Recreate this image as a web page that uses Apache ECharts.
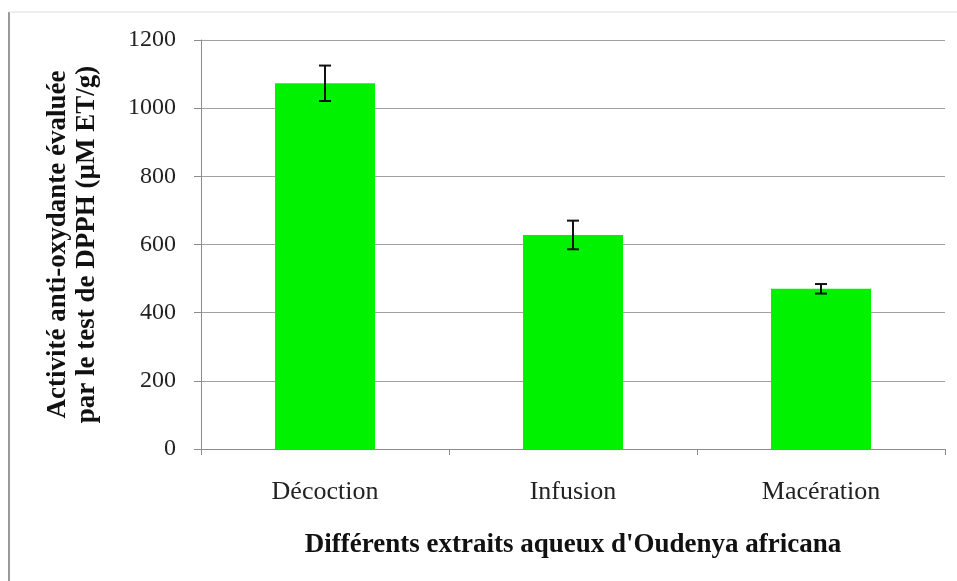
<!DOCTYPE html>
<html>
<head>
<meta charset="utf-8">
<script src="https://cdn.jsdelivr.net/npm/echarts@6/dist/echarts.min.js"></script>
<style>
html,body{margin:0;padding:0;background:#fff;}
#c{width:957px;height:581px;}
</style>
</head>
<body>
<div id="c"></div>
<script>
const categories = ['Décoction', 'Infusion', 'Macération'];
const values = [1073, 628, 470];
const errors = [52, 42, 14];
const yTicks = [0, 200, 400, 600, 800, 1000, 1200];

const FONT = '"Liberation Serif", "Times New Roman", serif';
const chart = echarts.init(document.getElementById('c'));

const errData = categories.map((c, i) => [i, values[i] - errors[i], values[i] + errors[i]]);

chart.setOption({
  animation: false,
  backgroundColor: '#fff',
  graphic: [
    { type: 'line', shape: { x1: 9, y1: 12, x2: 9, y2: 581 }, style: { stroke: '#999', lineWidth: 2 } },
    { type: 'line', shape: { x1: 9, y1: 12, x2: 957, y2: 12 }, style: { stroke: '#ddd', lineWidth: 1 } }
  ],
  grid: { left: 201, right: 12, top: 40, bottom: 132 },
  xAxis: {
    type: 'category',
    data: categories,
    axisLine: { lineStyle: { color: '#8c8c8c', width: 1 } },
    axisTick: { show: true, alignWithLabel: false, length: 6, lineStyle: { color: '#8c8c8c' } },
    axisLabel: { fontFamily: FONT, fontSize: 26, color: '#222', margin: 30 },
    name: "Différents extraits aqueux d'Oudenya africana",
    nameLocation: 'middle',
    nameGap: 83,
    nameTextStyle: { fontFamily: FONT, fontSize: 27, fontWeight: 'bold', color: '#111' }
  },
  yAxis: {
    type: 'value',
    min: yTicks[0],
    max: yTicks[yTicks.length - 1],
    interval: 200,
    axisLine: { show: true, lineStyle: { color: '#8c8c8c' } },
    axisTick: { show: true, length: 7, lineStyle: { color: '#8c8c8c' } },
    axisLabel: { fontFamily: FONT, fontSize: 24, color: '#222', margin: 25, formatter: function (v) { return String(v); } },
    splitLine: { lineStyle: { color: '#a0a0a0', width: 1 } },
    name: 'Activité anti-oxydante évaluée\npar le test de DPPH (µM ET/g)',
    nameLocation: 'middle',
    nameRotate: 90,
    nameGap: 99,
    nameTextStyle: { fontFamily: FONT, fontSize: 27, fontWeight: 'bold', color: '#111', lineHeight: 29 }
  },
  series: [
    {
      type: 'bar',
      data: values,
      barWidth: 100,
      itemStyle: { color: '#00f200' },
      z: 2
    },
    {
      type: 'custom',
      data: errData,
      z: 5,
      renderItem: function (params, api) {
        const x = api.value(0);
        const lo = api.coord([x, api.value(1)]);
        const hi = api.coord([x, api.value(2)]);
        const hw = 6;
        const st = { stroke: '#111', lineWidth: 2 };
        return {
          type: 'group',
          children: [
            { type: 'line', shape: { x1: lo[0], y1: lo[1], x2: hi[0], y2: hi[1] }, style: st },
            { type: 'line', shape: { x1: hi[0] - hw, y1: hi[1], x2: hi[0] + hw, y2: hi[1] }, style: st },
            { type: 'line', shape: { x1: lo[0] - hw, y1: lo[1], x2: lo[0] + hw, y2: lo[1] }, style: st }
          ]
        };
      }
    }
  ]
});
</script>
</body>
</html>
